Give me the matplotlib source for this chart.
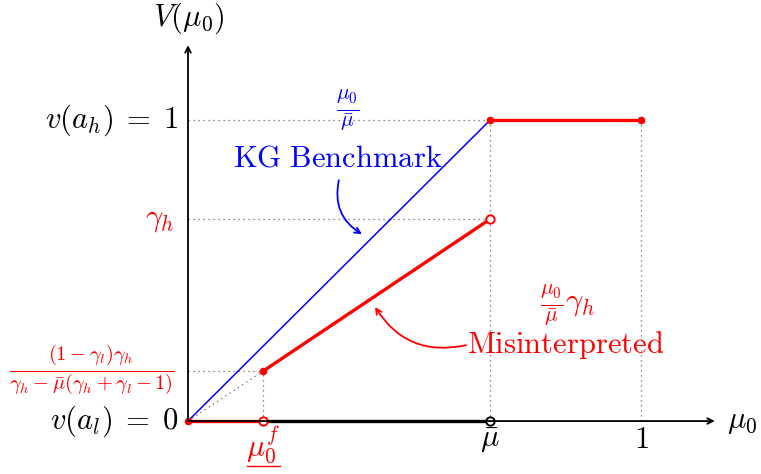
import numpy as np
import matplotlib.pyplot as plt

plt.rcParams['mathtext.fontset'] = 'cm'

# key values of the diagram (axis units)
mu_bar = 0.667
mu_f = 0.166
gamma_h = 0.671
v_low = 0.166
v_high = 1.0

# benchmark line and misinterpreted value function pieces
kg_x = [0, mu_bar]
kg_y = [0, v_high]
mis_pieces = [([0, mu_f], [0, 0]),
              ([mu_f, mu_bar], [v_low, gamma_h]),
              ([mu_bar, 1], [v_high, v_high])]
filled_x = [0, mu_f, mu_bar, 1]
filled_y = [0, v_low, v_high, v_high]
open_x = [mu_f, mu_bar]
open_y = [0, gamma_h]

fig = plt.figure(figsize=(7.61, 4.74), dpi=100)
ax = fig.add_axes([0, 0, 1, 1])
ax.set_xlim(-0.415, 1.265)
ax.set_ylim(-0.176, 1.399)
ax.axis('off')

red = '#ff0000'
blue = '#0000ff'
dot = dict(color='#666666', linestyle=(0, (1, 3)), linewidth=0.9)

# dotted guides
ax.plot([0, mu_bar], [v_high, v_high], **dot)
ax.plot([mu_bar, mu_bar], [0, v_high], **dot)
ax.plot([1, 1], [0, v_high], **dot)
ax.plot([0, mu_bar], [gamma_h, gamma_h], **dot)
ax.plot([0, mu_f], [v_low, v_low], **dot)
ax.plot([mu_f, mu_f], [0, v_low], **dot)
ax.plot([0, mu_f], [0, v_low], **dot)

# axes with arrows
ax.annotate('', xy=(1.163, 0), xytext=(0, 0),
            arrowprops=dict(arrowstyle='->', color='black', lw=1.3, shrinkA=0, shrinkB=0))
ax.annotate('', xy=(0, 1.249), xytext=(0, 0),
            arrowprops=dict(arrowstyle='->', color='black', lw=1.3, shrinkA=0, shrinkB=0))

ax.plot([mu_f, mu_bar], [0, 0], color='black', linewidth=2.4, solid_capstyle='butt')
ax.plot(kg_x, kg_y, color=blue, linewidth=1.1)
for xs, ys in mis_pieces:
    ax.plot(xs, ys, color=red, linewidth=2.4, solid_capstyle='butt')

ax.plot(filled_x, filled_y, 'o', color=red, markersize=4.5, linestyle='none')
ax.plot(open_x, open_y, 'o', markerfacecolor='white', markeredgecolor=red,
        markeredgewidth=1.4, markersize=6, linestyle='none')
ax.plot([mu_bar], [0], 'o', markerfacecolor='white', markeredgecolor='black',
        markeredgewidth=1.4, markersize=6, linestyle='none')

fs = 22
ax.text(0.002, 1.339, r'$V(\mu_0)$', fontsize=fs, ha='center', va='center')
ax.text(-0.022, v_high, r'$v(a_h)\;=\;1$', fontsize=fs, ha='right', va='center')
ax.text(-0.022, 0, r'$v(a_l)\;=\;0$', fontsize=fs, ha='right', va='center')
ax.text(-0.062, gamma_h, r'$\gamma_h$', fontsize=fs, ha='center', va='center', color=red)
ax.text(-0.212, v_low, r'$\frac{(1-\gamma_l)\gamma_h}{\gamma_h-\bar{\mu}(\gamma_h+\gamma_l-1)}$',
        fontsize=21, ha='center', va='center', color=red)
ax.text(mu_f, -0.08, r'$\mu_0^f$', fontsize=fs, ha='center', va='center', color=red)
ax.plot([mu_f - 0.036, mu_f + 0.038], [-0.149, -0.149], color=red, linewidth=1.0)
ax.text(mu_bar, -0.066, r'$\bar{\mu}$', fontsize=fs, ha='center', va='center')
ax.text(1, -0.06, r'$1$', fontsize=fs, ha='center', va='center')
ax.text(1.19, 0, r'$\mu_0$', fontsize=fs, ha='left', va='center')

ax.text(0.353, 1.033, r'$\frac{\mu_0}{\bar{\mu}}$', fontsize=22, ha='center', va='center', color=blue)
ax.text(0.331, 0.874, r'$\mathrm{KG\ Benchmark}$', fontsize=fs, ha='center', va='center', color=blue)
ax.annotate('', xy=(0.384, 0.621), xytext=(0.333, 0.80),
            arrowprops=dict(arrowstyle='->', color=blue, lw=1.3, shrinkA=0, shrinkB=0,
                            connectionstyle='arc3,rad=0.35'))

ax.text(0.837, 0.385, r'$\frac{\mu_0}{\bar{\mu}}\gamma_h$', fontsize=22, ha='center', va='center', color=red)
ax.text(0.834, 0.252, r'$\mathrm{Misinterpreted}$', fontsize=fs, ha='center', va='center', color=red)
ax.annotate('', xy=(0.413, 0.379), xytext=(0.614, 0.252),
            arrowprops=dict(arrowstyle='->', color=red, lw=1.3, shrinkA=0, shrinkB=0,
                            connectionstyle='arc3,rad=-0.35'))

fig.savefig('out.png', dpi=100)
